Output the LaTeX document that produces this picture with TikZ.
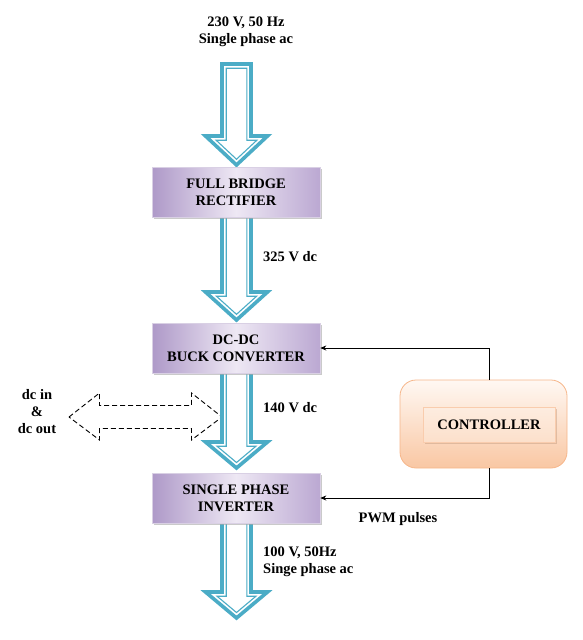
\documentclass[tikz,border=0pt]{standalone}
\usepackage{fontspec}
\setmainfont{Liberation Serif}
\usetikzlibrary{shadows,arrows.meta,calc}
\definecolor{teal1}{HTML}{4BACC6}
\definecolor{purA}{HTML}{AE99C8}
\definecolor{purM}{HTML}{EEE8F4}
\definecolor{purB}{HTML}{BBA8D2}
\definecolor{purBorder}{HTML}{D9D0E4}
\definecolor{orBorder}{HTML}{F6B68A}
\definecolor{orTop}{HTML}{FFF8F3}
\definecolor{orBot}{HTML}{F9C7A3}
\definecolor{orIn}{HTML}{FCE0CB}
\tikzset{
  txt/.style={font=\fontsize{14.5}{17}\selectfont\bfseries, align=center, inner sep=0pt},
  blockbox/.style={txt, minimum width=168pt, minimum height=50pt, draw=purBorder, line width=0.6pt,
     left color=purA, right color=purB, middle color=purM,
     drop shadow={shadow xshift=1.8pt, shadow yshift=-1.8pt, fill=black!35, opacity=0.6}},
  ctrlouter/.style={minimum width=167pt, minimum height=88pt, rounded corners=16pt, draw=orBorder,
     line width=0.8pt, top color=orTop, bottom color=orBot},
  ctrlinner/.style={txt, minimum width=132pt, minimum height=35pt, draw=orBorder!70, line width=0.6pt,
     top color=orIn!60, bottom color=orIn,
     drop shadow={shadow xshift=1.8pt, shadow yshift=-1.8pt, fill=orBot!80!black, opacity=0.5}},
  arrowouter/.style={draw=teal1, line width=3.6pt, line join=miter, fill=white},
  arrowinner/.style={draw=teal1, line width=1.1pt, line join=miter},
  fb/.style={draw=black, line width=0.8pt, -{Stealth[length=6pt,width=5pt]}},
  dashedarrow/.style={draw=black, line width=0.9pt, dash pattern=on 5pt off 3pt}
}
% block arrow: centre x, top y, head start y, tip y
\newcommand\blkarrow[4]{%
  \pgfmathsetmacro\bhh{#4-#3}%
  \pgfmathsetmacro\bca{cos(atan(31/\bhh))}%
  \pgfmathsetmacro\bsa{sin(atan(31/\bhh))}%
  \pgfmathsetmacro\bin{4.2}%
  \pgfmathsetmacro\bhx{31-\bin*31/\bhh-\bin/\bca}%
  \pgfmathsetmacro\bty{#4-\bin/\bsa}%
  \draw[arrowouter] (#1-14.5,#2) -- (#1-14.5,#3) -- (#1-31,#3) -- (#1,#4) -- (#1+31,#3)
     -- (#1+14.5,#3) -- (#1+14.5,#2) -- cycle;
  \draw[arrowinner] (#1-14.5+\bin,#2+\bin) -- (#1-14.5+\bin,#3+\bin) -- (#1-\bhx,#3+\bin)
     -- (#1,\bty) -- (#1+\bhx,#3+\bin) -- (#1+14.5-\bin,#3+\bin) -- (#1+14.5-\bin,#2+\bin) -- cycle;
}
\begin{document}
\begin{tikzpicture}[x=1pt,y=-1pt]
\useasboundingbox (0,0) rectangle (582,640);
% dashed double arrow (behind the block arrow)
\coordinate (dl) at (69,417);
\coordinate (dr) at (222,417);
\draw[dashedarrow] (dl) -- (99.5,393) -- (99.5,405.5) -- (191.5,405.5) -- (191.5,393) -- (dr)
   -- (191.5,440) -- (191.5,428.5) -- (99.5,428.5) -- (99.5,440) -- cycle;
% block arrows
\blkarrow{236.5}{64}{136}{165}
\blkarrow{236.5}{200}{292}{320}
\blkarrow{236.5}{350}{442}{468}
\blkarrow{236.5}{500}{592}{618}
% boxes
\node[blockbox] (rect) at (236,192) {FULL BRIDGE\\RECTIFIER};
\node[blockbox] (buck) at (236,348) {DC-DC\\BUCK CONVERTER};
\node[blockbox] (inv) at (236,498) {SINGLE PHASE\\INVERTER};
% controller
\node[ctrlouter] (ctrl) at (483.5,424) {};
\node[ctrlinner] (ctrlin) at (489,424.5) {CONTROLLER};
\coordinate (ctop) at (489.5,380);
\coordinate (cbot) at (489.5,468);
\draw[fb] (ctop) |- (buck.east);
\draw[fb] (cbot) |- (inv.east);
% labels
\node[txt] (lin) at (246,32) {230 V, 50 Hz\\Single phase ac};
\node[txt, anchor=west] (l325) at (263,257) {325 V dc};
\node[txt, anchor=west] (l140) at (263,408) {140 V dc};
\node[txt, anchor=west, align=left] (lout) at (263,562) {100 V, 50Hz\\Singe phase ac};
\node[txt] (lpwm) at (398,519) {PWM pulses};
\node[txt] (ldc) at (37,412) {dc in\\\&\\dc out};
\end{tikzpicture}
\end{document}
